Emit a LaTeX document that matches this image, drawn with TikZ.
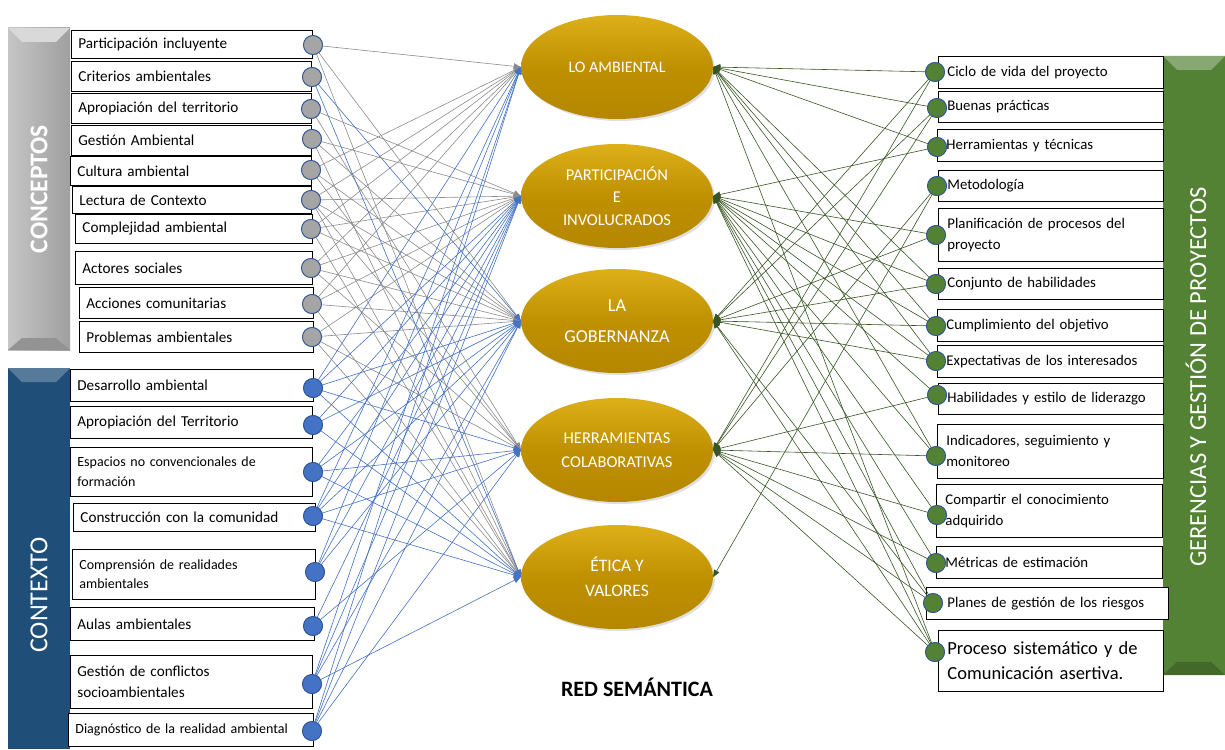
\documentclass[tikz,border=0pt]{standalone}
\usepackage{fontspec}
\setmainfont{Carlito}
\usetikzlibrary{arrows.meta,shapes.geometric,shadows}
\definecolor{gold}{HTML}{BF9000}
\definecolor{goldlt}{HTML}{DDB01A}
\definecolor{golddk}{HTML}{B58700}
\definecolor{dotgray}{HTML}{A5A5A5}
\definecolor{dotblue}{HTML}{4472C4}
\definecolor{dotgreen}{HTML}{548235}
\definecolor{rimblue}{HTML}{2F5597}
\definecolor{edgegray}{HTML}{8C8C8C}
\definecolor{edgeblue}{HTML}{4472C4}
\definecolor{edgegreen}{HTML}{4E6B2E}
\definecolor{tipgreen}{HTML}{375623}
\definecolor{barblue}{HTML}{1F4E79}
\definecolor{bargreen}{HTML}{548235}
\tikzset{
  lbox/.style={draw, line width=0.8pt, fill=white, anchor=north west, inner ysep=0pt, inner xsep=7pt, align=left, font=\fontsize{15.2}{19}\selectfont},
  sbox/.style={lbox, font=\fontsize{14}{19.5}\selectfont},
  rbox/.style={lbox, inner xsep=9pt, font=\fontsize{14.8}{21}\selectfont},
  dotg/.style={circle, draw=rimblue, line width=0.8pt, fill=dotgray, minimum size=19pt, inner sep=0pt},
  dotb/.style={circle, draw=rimblue, line width=0.8pt, fill=dotblue, minimum size=19pt, inner sep=0pt},
  dotgr/.style={circle, draw=rimblue, line width=0.8pt, fill=dotgreen, minimum size=19pt, inner sep=0pt},
  goldell/.style={ellipse, minimum width=192pt, minimum height=104pt, inner sep=0pt, top color=goldlt, bottom color=golddk, middle color=gold, text=white, align=center, drop shadow={opacity=0.25, shadow xshift=2pt, shadow yshift=-2pt}},
  ge/.style={draw=edgegray, line width=0.6pt, -{Triangle[length=7pt,width=6pt]}},
  be/.style={draw=edgeblue, line width=0.6pt, -{Triangle[length=7pt,width=6pt]}},
  gre/.style={draw=edgegreen, line width=0.6pt, -{Triangle[length=7pt,width=6pt]}, tipgreen},
  bartext/.style={text=white, rotate=90, anchor=center}
}
\begin{document}
\begin{tikzpicture}[x=1pt,y=-1pt]
\useasboundingbox (0,0) rectangle (1225,749);
\fill[white] (0,0) rectangle (1225,749);

% side bars
\shade[left color=gray!45, right color=gray!75] (8,28) rectangle (70,350);
\fill[gray!30] (8,28) -- (70,28) -- (56,42) -- (22,42) -- cycle;
\fill[gray!85] (8,350) -- (70,350) -- (56,338) -- (22,338) -- cycle;
\fill[barblue] (8,368) rectangle (70,749);
\fill[barblue!75!white] (8,368) -- (70,368) -- (56,382) -- (22,382) -- cycle;
\fill[bargreen] (1163,56) rectangle (1225,675);
\fill[bargreen!70!white] (1163,56) -- (1225,56) -- (1211,70) -- (1177,70) -- cycle;
\fill[bargreen!80!black] (1163,675) -- (1225,675) -- (1211,662) -- (1177,662) -- cycle;
\node[bartext, font=\fontsize{25.5}{30}\selectfont\bfseries] (tcon) at (39,189) {CONCEPTOS};
\node[bartext, font=\fontsize{26}{30}\selectfont] (tctx) at (39,595) {CONTEXTO};
\node[bartext, font=\fontsize{24.5}{30}\selectfont] (tger) at (1196,377) {GERENCIAS Y GESTIÓN DE PROYECTOS};

% concept boxes
\node[lbox, text width=227pt, minimum height=28pt] (b1) at (71,30) {Participación incluyente};
\node[lbox, text width=226pt, minimum height=30pt] (b2) at (71,61) {Criterios ambientales};
\node[lbox, text width=226pt, minimum height=30pt] (b3) at (71,93) {Apropiación del territorio};
\node[lbox, text width=226pt, minimum height=30pt] (b4) at (71,125) {Gestión Ambiental};
\node[lbox, text width=227pt, minimum height=29pt] (b5) at (70,156) {Cultura ambiental};
\node[lbox, text width=225pt, minimum height=27pt] (b6) at (72,186) {Lectura de Contexto};
\node[lbox, text width=223pt, minimum height=29pt] (b7) at (75,214) {Complejidad ambiental};
\node[lbox, text width=223pt, minimum height=33pt] (b8) at (75,251) {Actores sociales};
\node[lbox, text width=220pt, minimum height=31pt] (b9) at (79,287) {Acciones comunitarias};
\node[lbox, text width=220pt, minimum height=31pt] (b10) at (79,321) {Problemas ambientales};

% context boxes
\node[lbox, text width=229pt, minimum height=32pt] (k1b) at (70,369) {Desarrollo ambiental};
\node[lbox, text width=228pt, minimum height=32pt] (k2b) at (70,406) {Apropiación del Territorio};
\node[sbox, text width=228pt, minimum height=49pt] (k3b) at (70,447) {Espacios no convencionales de\\formación};
\node[lbox, text width=228pt, minimum height=28pt] (k4b) at (73,503) {Construcción con la comunidad};
\node[sbox, text width=229pt, minimum height=50pt] (k5b) at (72,549) {Comprensión de realidades\\ambientales};
\node[lbox, text width=230pt, minimum height=33pt] (k6b) at (70,607) {Aulas ambientales};
\node[lbox, text width=228pt, minimum height=53pt, font=\fontsize{15.2}{21}\selectfont] (k7b) at (70,655) {Gestión de conflictos\\socioambientales};
\node[sbox, text width=231pt, minimum height=33pt] (k8b) at (68,713) {Diagnóstico de la realidad ambiental};

% right boxes
\node[rbox, text width=207pt, minimum height=32pt] (r1b) at (938,56) {Ciclo de vida del proyecto};
\node[rbox, text width=207pt, minimum height=31pt] (r2b) at (938,91) {Buenas prácticas};
\node[rbox, text width=208pt, minimum height=32pt] (r3b) at (937,129) {Herramientas y técnicas};
\node[rbox, text width=207pt, minimum height=31pt] (r4b) at (938,170) {Metodología};
\node[rbox, text width=207pt, minimum height=53pt] (r5b) at (938,208) {Planificación de procesos del\\proyecto};
\node[rbox, text width=207pt, minimum height=31pt] (r6b) at (938,268) {Conjunto de habilidades};
\node[rbox, text width=208pt, minimum height=32pt] (r7b) at (937,309) {Cumplimiento del objetivo};
\node[rbox, text width=208pt, minimum height=32pt] (r8b) at (937,345) {Expectativas de los interesados};
\node[rbox, text width=207pt, minimum height=31pt] (r9b) at (938,383) {Habilidades y estilo de liderazgo};
\node[rbox, text width=208pt, minimum height=54pt] (r10b) at (937,424) {Indicadores, seguimiento y\\monitoreo};
\node[rbox, text width=208pt, minimum height=53pt] (r11b) at (936,484) {Compartir el conocimiento\\adquirido};
\node[rbox, text width=208pt, minimum height=32pt] (r12b) at (936,546) {Métricas de estimación};
\node[rbox, text width=224pt, minimum height=32pt] (r13b) at (926,587) {\hspace*{12pt}Planes de gestión de los riesgos};
\node[rbox, text width=207pt, minimum height=61pt, font=\fontsize{18.5}{25}\selectfont] (r14b) at (938,630) {Proceso sistemático y de\\Comunicación asertiva.};

% ellipses
\node[goldell, font=\fontsize{16}{22}\selectfont] (e1) at (617,67) {LO AMBIENTAL};
\node[goldell, font=\fontsize{16.5}{22.5}\selectfont] (e2) at (617,196) {PARTICIPACIÓN\\E\\INVOLUCRADOS};
\node[goldell, font=\fontsize{18.2}{31}\selectfont] (e3) at (617,321) {LA\\GOBERNANZA};
\node[goldell, font=\fontsize{16.5}{24}\selectfont] (e4) at (617,450) {HERRAMIENTAS\\COLABORATIVAS};
\node[goldell, font=\fontsize{17.5}{25}\selectfont] (e5) at (617,577) {ÉTICA Y\\VALORES};

% dots
\node[dotg] (c1) at (313,45) {};
\node[dotg] (c2) at (312,77) {};
\node[dotg] (c3) at (311,109) {};
\node[dotg] (c4) at (312,139) {};
\node[dotg] (c5) at (311,170) {};
\node[dotg] (c6) at (311,200) {};
\node[dotg] (c7) at (311,229) {};
\node[dotg] (c8) at (311,268) {};
\node[dotg] (c9) at (312,304) {};
\node[dotg] (c10) at (312,337) {};
\node[dotb] (k1) at (313,388) {};
\node[dotb] (k2) at (313,425) {};
\node[dotb] (k3) at (313,472) {};
\node[dotb] (k4) at (313,516) {};
\node[dotb] (k5) at (315,572) {};
\node[dotb] (k6) at (313,626) {};
\node[dotb] (k7) at (312,684) {};
\node[dotb] (k8) at (312,731) {};
\node[dotgr] (r1) at (935,72) {};
\node[dotgr] (r2) at (937,108) {};
\node[dotgr] (r3) at (937,147) {};
\node[dotgr] (r4) at (937,186) {};
\node[dotgr] (r5) at (936,235) {};
\node[dotgr] (r6) at (936,284) {};
\node[dotgr] (r7) at (936,326) {};
\node[dotgr] (r8) at (936,361) {};
\node[dotgr] (r9) at (937,395) {};
\node[dotgr] (r10) at (936,456) {};
\node[dotgr] (r11) at (937,515) {};
\node[dotgr] (r12) at (936,563) {};
\node[dotgr] (r13) at (933,603) {};
\node[dotgr] (r14) at (935,652) {};

% edges
\foreach \a/\b in {c1/e1,c1/e3,c1/e5,c3/e2,c3/e4,c4/e2,c4/e3,c4/e5,c5/e1,c5/e3,c5/e4,
  c6/e1,c6/e2,c6/e3,c6/e4,c6/e5,c7/e1,c7/e2,c7/e3,c7/e5,c8/e1,c8/e2,c8/e3,c8/e4,
  c9/e1,c9/e2,c9/e3,c9/e5,c10/e2,c10/e3,c10/e4,c10/e5}
  \draw[ge] (\a.center) -- (\b.west);
\foreach \a/\b in {c2/e3,c2/e5,k1/e1,k1/e2,k1/e3,k1/e4,k1/e5,k2/e2,k2/e3,k2/e5,
  k3/e2,k3/e3,k3/e4,k3/e5,k4/e1,k4/e2,k4/e3,k4/e4,k4/e5,k5/e1,k5/e2,k5/e3,
  k6/e2,k6/e4,k7/e1,k7/e2,k7/e3,k7/e5,k8/e1,k8/e2,k8/e3,k8/e4}
  \draw[be] (\a.center) -- (\b.west);
\foreach \a/\b in {r1/e1,r1/e3,r1/e4,r2/e1,r2/e3,r2/e4,r3/e1,r3/e2,r4/e4,r5/e2,r5/e3,
  r6/e1,r6/e2,r6/e3,r7/e1,r7/e2,r7/e3,r8/e1,r8/e2,r8/e3,r9/e2,r9/e4,r10/e1,r10/e2,r10/e4,
  r11/e2,r11/e4,r12/e2,r12/e4,r13/e2,r13/e3,r13/e4,r14/e1,r14/e2,r14/e3,r14/e4,r4/e5}
  \draw[gre] (\a.center) -- (\b.east);

% dots on top of the connectors
\foreach \n in {c1,c2,c3,c4,c5,c6,c7,c8,c9,c10}
  \node[dotg] at (\n) {};
\foreach \n in {k1,k2,k3,k4,k5,k6,k7,k8}
  \node[dotb] at (\n) {};
\foreach \n in {r1,r2,r3,r4,r5,r6,r7,r8,r9,r10,r11,r12,r13,r14}
  \node[dotgr] at (\n) {};

\node[font=\fontsize{22}{26}\selectfont\bfseries] (title) at (637,687) {RED SEMÁNTICA};
\end{tikzpicture}
\end{document}
